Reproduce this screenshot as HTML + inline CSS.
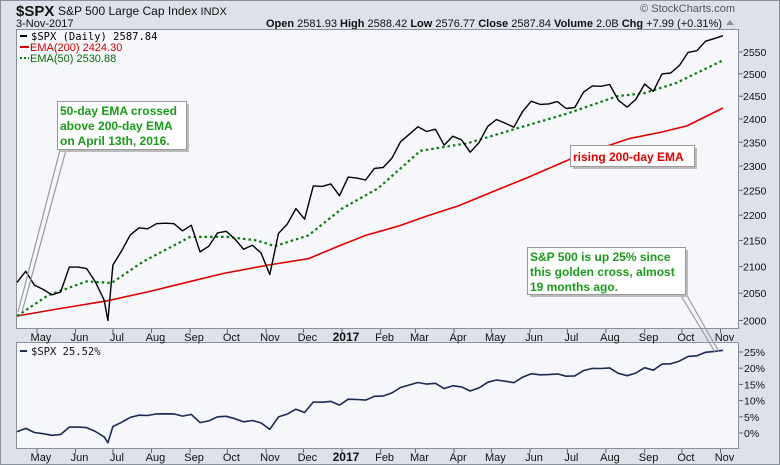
<!DOCTYPE html>
<html><head><meta charset="utf-8"><style>
html,body{margin:0;padding:0;background:#dde1ea;}
svg{display:block;font-family:"Liberation Sans",sans-serif;}
</style></head><body>
<svg id="chart" width="780" height="465" viewBox="0 0 780 465" xmlns="http://www.w3.org/2000/svg">
<rect x="0" y="0" width="780" height="465" fill="#dde1ea"/>
<rect x="0.5" y="0.5" width="779" height="464" fill="none" stroke="#8a8f9c"/>
<text x="16" y="16" font-size="15" font-weight="bold" fill="#111">$SPX</text>
<text x="58" y="15" font-size="12" fill="#111">S&amp;P 500 Large Cap Index <tspan font-size="11">INDX</tspan></text>
<text x="16" y="27" font-size="11" fill="#111">3-Nov-2017</text>
<text x="735" y="12" font-size="11" fill="#555" text-anchor="end">© StockCharts.com</text>
<text x="722" y="27" font-size="11" fill="#111" text-anchor="end"><tspan font-weight="bold">Open</tspan> 2581.93 <tspan font-weight="bold">High</tspan> 2588.42 <tspan font-weight="bold">Low</tspan> 2576.77 <tspan font-weight="bold">Close</tspan> 2587.84 <tspan font-weight="bold">Volume</tspan> 2.0B <tspan font-weight="bold">Chg</tspan> +7.99 (+0.31%)</text>
<path d="M726 25 L730 20 L734 25 Z" fill="#8a8f9c"/>
<rect x="16.5" y="29.5" width="722" height="299" fill="#f5f7fb" stroke="#8a8f9c"/>
<rect x="16.5" y="342.5" width="722" height="106" fill="#f5f7fb" stroke="#8a8f9c"/>
<g id="g-main"></g>
<g id="g-low"></g>
<g id="g-axes"></g>
<g font-size="11">
<line x1="20" y1="36" x2="27" y2="36" stroke="#000" stroke-width="2"/>
<text x="31" y="40" fill="#000" font-family="DejaVu Sans Mono,monospace" font-size="10.5">$SPX (Daily) 2587.84</text>
<line x1="20" y1="47" x2="29" y2="47" stroke="#e00000" stroke-width="2"/>
<text x="30" y="51" fill="#d00000">EMA(200) 2424.30</text>
<line x1="20" y1="58" x2="29" y2="58" stroke="#0a7a0a" stroke-width="2" stroke-dasharray="2,2"/>
<text x="30" y="62" fill="#0a6a0a">EMA(50) 2530.88</text>
</g>
<g>
<line x1="20" y1="351" x2="27" y2="351" stroke="#1b2a52" stroke-width="2"/>
<text x="31" y="355" font-size="10.5" font-family="DejaVu Sans Mono,monospace" fill="#111">$SPX 25.52%</text>
</g>
<g>
<path d="M60 150 L18 312 M66 150 L22 312" stroke="#999" stroke-width="1.2" fill="none"/>
<rect x="60" y="104" width="129" height="48" fill="#bbb"/>
<rect x="57.5" y="101.5" width="129" height="48" fill="#fff" stroke="#999"/>
<text font-size="12" font-weight="bold" fill="#1a9a1a"><tspan x="60" y="115">50-day EMA crossed</tspan><tspan x="60" y="130">above 200-day EMA</tspan><tspan x="60" y="145">on April 13th, 2016.</tspan></text>
</g>
<g>
<rect x="573" y="148" width="124" height="21" fill="#bbb"/>
<rect x="570.5" y="145.5" width="124" height="21" fill="#fff" stroke="#999"/>
<text x="573" y="161" font-size="12" font-weight="bold" fill="#e00000">rising 200-day EMA</text>
</g>
<g>
<path d="M680 294 L715 352 M686 294 L719 352" stroke="#999" stroke-width="1.2" fill="none"/>
<rect x="530" y="250" width="158" height="47" fill="#bbb"/>
<rect x="527.5" y="247.5" width="158" height="47" fill="#fff" stroke="#999"/>
<text font-size="12" font-weight="bold" fill="#1a9a1a"><tspan x="530" y="261">S&amp;P 500 is up 25% since</tspan><tspan x="530" y="276">this golden cross, almost</tspan><tspan x="530" y="291">19 months ago.</tspan></text>
</g>
</svg>
<script>
const spxDates=["2016-04-15","2016-04-22","2016-04-29","2016-05-06","2016-05-13","2016-05-20","2016-05-27","2016-06-03","2016-06-10","2016-06-17","2016-06-24","2016-06-27","2016-07-01","2016-07-08","2016-07-15","2016-07-22","2016-07-29","2016-08-05","2016-08-12","2016-08-19","2016-08-26","2016-09-02","2016-09-09","2016-09-16","2016-09-23","2016-09-30","2016-10-07","2016-10-14","2016-10-21","2016-10-28","2016-11-04","2016-11-11","2016-11-18","2016-11-25","2016-12-02","2016-12-09","2016-12-16","2016-12-23","2016-12-30","2017-01-06","2017-01-13","2017-01-20","2017-01-27","2017-02-03","2017-02-10","2017-02-17","2017-02-24","2017-03-03","2017-03-10","2017-03-17","2017-03-24","2017-03-31","2017-04-07","2017-04-14","2017-04-21","2017-04-28","2017-05-05","2017-05-12","2017-05-19","2017-05-26","2017-06-02","2017-06-09","2017-06-16","2017-06-23","2017-06-30","2017-07-07","2017-07-14","2017-07-21","2017-07-28","2017-08-04","2017-08-11","2017-08-18","2017-08-25","2017-09-01","2017-09-08","2017-09-15","2017-09-22","2017-09-29","2017-10-06","2017-10-13","2017-10-20","2017-10-27","2017-11-03"];
const spxClose=[2070,2091,2065,2057,2047,2052,2099,2099,2096,2071,2037,2000,2103,2130,2161,2175,2173,2183,2184,2183,2169,2180,2128,2139,2165,2168,2153,2133,2141,2126,2085,2164,2182,2213,2192,2259,2258,2263,2239,2277,2275,2271,2295,2297,2316,2351,2367,2383,2373,2378,2344,2363,2355,2329,2349,2384,2399,2391,2382,2416,2439,2432,2433,2438,2423,2425,2459,2473,2472,2476,2441,2426,2443,2477,2461,2500,2502,2519,2549,2553,2575,2581,2588];
const ema200Dates=["2016-04-15","2016-05-15","2016-06-27","2016-08-01","2016-08-15","2016-09-28","2016-11-03","2016-12-05","2016-12-28","2017-01-20","2017-02-15","2017-03-10","2017-04-05","2017-05-01","2017-05-30","2017-07-10","2017-08-20","2017-09-15","2017-10-05","2017-11-03"];
const ema200Vals=[2008,2020,2036,2054,2062,2087,2103,2115,2138,2160,2178,2198,2219,2246,2276,2322,2358,2372,2385,2424];
const ema50Dates=["2016-04-15","2016-05-10","2016-06-10","2016-06-30","2016-07-25","2016-09-01","2016-10-01","2016-10-25","2016-11-08","2016-12-05","2017-01-01","2017-01-30","2017-03-05","2017-04-12","2017-05-22","2017-07-01","2017-08-10","2017-09-01","2017-09-26","2017-11-03"];
const ema50Vals=[2008,2046,2072,2069,2109,2157,2157,2150,2139,2160,2213,2254,2332,2348,2380,2412,2450,2457,2479,2531];
const priceTicks=[2000,2050,2100,2150,2200,2250,2300,2350,2400,2450,2500,2550];
const pctTicks=[0,5,10,15,20,25];
const monthTicks=["2016-05-01","2016-06-01","2016-07-01","2016-08-01","2016-09-01","2016-10-01","2016-11-01","2016-12-01","2017-01-01","2017-02-01","2017-03-01","2017-04-01","2017-05-01","2017-06-01","2017-07-01","2017-08-01","2017-09-01","2017-10-01","2017-11-01"];
const monthLabels=["May","Jun","Jul","Aug","Sep","Oct","Nov","Dec","2017","Feb","Mar","Apr","May","Jun","Jul","Aug","Sep","Oct","Nov"];
const pctBase=2061.7;

const NS="http://www.w3.org/2000/svg";
const t0=Date.parse("2016-04-15"),t1=Date.parse("2017-11-03");
function xScale(d){return 17+(Date.parse(d)-t0)/(t1-t0)*706;}
function yPrice(v){return 52+(Math.log(2550)-Math.log(v))*1105;}
function yPct(p){return 433-p*3.24;}
function mk(tag,attrs,parent){const e=document.createElementNS(NS,tag);for(const k in attrs)e.setAttribute(k,attrs[k]);parent.appendChild(e);return e;}
function pathFrom(dates,vals,ys){return dates.map((d,i)=>(i?"L":"M")+xScale(d).toFixed(1)+" "+ys(vals[i]).toFixed(1)).join(" ");}
const gm=document.getElementById("g-main"),gl=document.getElementById("g-low"),ga=document.getElementById("g-axes");

const e200=mk("path",{d:pathFrom(ema200Dates,ema200Vals,yPrice),fill:"none",stroke:"#e00000","stroke-width":"1.6","stroke-linejoin":"round"},gm);


const e50=mk("path",{d:pathFrom(ema50Dates,ema50Vals,yPrice),fill:"none",stroke:"#0a7a0a","stroke-width":"2.2","stroke-dasharray":"2.5,3"},gm);


const sp=mk("path",{d:pathFrom(spxDates,spxClose,yPrice),fill:"none",stroke:"#000","stroke-width":"1.4","stroke-linejoin":"round"},gm);



const pcts=spxClose.map(v=>(v/pctBase-1)*100);
const pl=mk("path",{d:pathFrom(spxDates,pcts,yPct),fill:"none",stroke:"#1b2a52","stroke-width":"1.6","stroke-linejoin":"round"},gl);



priceTicks.forEach(v=>{const y=yPrice(v);
 const tk=mk("line",{x1:739,x2:743,y1:y,y2:y,stroke:"#666"},ga);
 
 
 const t=mk("text",{x:743,y:y+4,"font-size":"10.5",fill:"#111"},ga);t.textContent=v;
 
 });
pctTicks.forEach(v=>{const y=yPct(v);
 const tk=mk("line",{x1:739,x2:743,y1:y,y2:y,stroke:"#666"},ga);
 
 
 const t=mk("text",{x:744,y:y+4,"font-size":"10.5",fill:"#111"},ga);t.textContent=v+"%";
 
 });
monthTicks.forEach((d,i)=>{const x=xScale(d);
 [[329,333,341],[449,453,461]].forEach(r=>{
 const tk=mk("line",{x1:x,x2:x,y1:r[0],y2:r[1],stroke:"#666"},ga);
 
 
 const bold=monthLabels[i]==="2017";
 const t=mk("text",{x:x+4,y:r[2],"font-size":bold?"12":"11","font-weight":bold?"bold":"normal",fill:"#111","text-anchor":"middle"},ga);
 t.textContent=monthLabels[i];
 
 });});
</script>
</body></html>
